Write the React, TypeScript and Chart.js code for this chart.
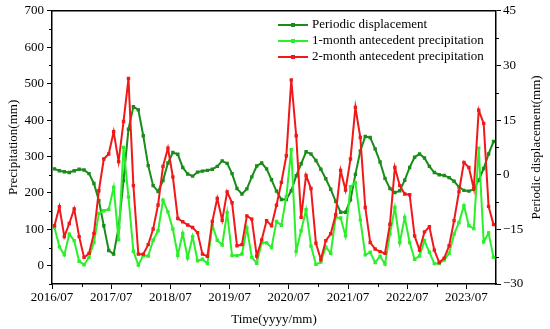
import React, { useEffect, useRef } from 'react';
import { Chart, registerables } from 'chart.js';

Chart.register(...registerables);

const xTickLabels = ['2016/07', '2017/07', '2018/07', '2019/07', '2020/07', '2021/07', '2022/07', '2023/07'];
const leftTicks = [0, 100, 200, 300, 400, 500, 600, 700];
const rightTicks = [-30, -15, 0, 15, 30, 45];
const seriesNames = ['Periodic displacement', '1-month antecedent precipitation', '2-month antecedent precipitation'];

// Periodic displacement (mm, right axis), monthly from 2016/07
const periodic = [
  1.6, 1.1, 0.8, 0.6, 1.1, 1.5, 1.3, 0.3, -2.4, -7.1,
  -14.0, -20.8, -21.8, -14.5, -1.6, 12.5, 18.7, 17.8, 10.7, 2.5,
  -3.0, -4.6, -1.6, 3.2, 6.1, 5.6, 2.0, 0.2, -0.4, 0.7,
  1.0, 1.2, 1.5, 2.3, 3.8, 3.1, 0.3, -3.8, -5.3, -3.9,
  -0.6, 2.4, 3.2, 1.6, -1.4, -4.5, -6.8, -6.8, -4.4, -0.3,
  3.0, 6.3, 5.7, 3.9, 1.5, -1.1, -4.0, -7.3, -10.3, -10.3,
  -6.9, 0.1, 6.5, 10.5, 10.2, 7.1, 3.5, -1.0, -3.8, -4.9,
  -4.4, -1.5, 2.0, 4.8, 5.7, 4.6, 2.3, 0.6, 0.0, -0.2,
  -0.8, -1.8, -3.4, -4.3, -4.5, -4.0, -1.5, 1.7, 5.7, 9.1,
];

// 1-month antecedent precipitation (mm, left axis)
const precip1 = [
  105, 52, 30, 87, 69, 12, 3, 23, 64, 144,
  151, 155, 215, 71, 325, 189, 40, 2, 28, 27,
  70, 96, 180, 148, 101, 29, 89, 22, 80, 14,
  18, 6, 112, 70, 57, 146, 28, 28, 32, 104,
  23, 7, 63, 63, 50, 122, 111, 190, 319, 40,
  96, 154, 54, 4, 10, 52, 34, 133, 131, 82,
  217, 228, 126, 30, 37, 9, 26, 5, 87, 160,
  64, 133, 64, 18, 27, 69, 37, 6, 6, 16,
  34, 87, 119, 165, 110, 102, 323, 66, 90, 23,
];

// 2-month antecedent precipitation (mm, left axis)
const precip2 = [
  110, 162, 80, 116, 156, 80, 23, 34, 89, 206,
  293, 307, 368, 286, 396, 514, 220, 32, 32, 58,
  101, 167, 273, 323, 244, 130, 121, 112, 105, 91,
  32, 26, 122, 185, 125, 203, 173, 55, 58, 137,
  128, 27, 71, 124, 110, 166, 229, 302, 510, 357,
  133, 248, 212, 62, 17, 69, 88, 140, 262, 208,
  293, 435, 352, 160, 64, 46, 39, 34, 114, 270,
  220, 197, 195, 82, 43, 93, 107, 43, 9, 21,
  55, 124, 204, 284, 270, 212, 427, 391, 163, 113,
];

const FONT = '"Liberation Serif", "Times New Roman", serif';
const COLORS = ['#1a8c1a', '#2af02a', '#f01818'];

const toPoints = (arr: number[]) => arr.map((v, i) => ({ x: i + 0.5, y: v }));

const framePlugin = {
  id: 'frame',
  afterDraw(chart: any) {
    const { ctx, chartArea } = chart;
    const { left, right, top, bottom } = chartArea;
    const sx = chart.scales.x;
    const sl = chart.scales.yL;
    const sr = chart.scales.yR;
    ctx.save();
    ctx.strokeStyle = '#000';
    ctx.lineWidth = 1.5;
    ctx.beginPath();
    ctx.moveTo(left, top);
    ctx.lineTo(right, top);
    ctx.stroke();
    // minor ticks
    ctx.lineWidth = 1;
    ctx.beginPath();
    for (let v = -50; v <= 700; v += 100) {
      const y = Math.round(sl.getPixelForValue(v)) + 0.5;
      ctx.moveTo(left, y);
      ctx.lineTo(left - 3, y);
    }
    for (let v = -22.5; v <= 45; v += 15) {
      const y = Math.round(sr.getPixelForValue(v)) + 0.5;
      ctx.moveTo(right, y);
      ctx.lineTo(right + 3, y);
    }
    for (let m = 6; m < 90; m += 12) {
      const x = Math.round(sx.getPixelForValue(m)) + 0.5;
      ctx.moveTo(x, bottom);
      ctx.lineTo(x, bottom + 3);
    }
    ctx.stroke();
    // right title
    ctx.fillStyle = '#000';
    ctx.font = `13px ${FONT}`;
    ctx.textAlign = 'center';
    ctx.textBaseline = 'middle';
    ctx.save();
    ctx.translate(537, (top + bottom) / 2);
    ctx.rotate(-Math.PI / 2);
    ctx.fillText('Periodic displacement(mm)', 0, 0);
    ctx.restore();
    // legend
    const lx0 = 278, lx1 = 308, ly0 = 25, dy = 16;
    chart.data.datasets.forEach((ds: any, i: number) => {
      const y = ly0 + i * dy;
      ctx.strokeStyle = ds.borderColor;
      ctx.lineWidth = 2;
      ctx.beginPath();
      ctx.moveTo(lx0, y);
      ctx.lineTo(lx1, y);
      ctx.stroke();
      ctx.fillStyle = ds.borderColor;
      ctx.fillRect((lx0 + lx1) / 2 - 2, y - 2, 4, 4);
      ctx.fillStyle = '#000';
      ctx.textAlign = 'left';
      ctx.fillText(ds.label, 312, y);
    });
    ctx.restore();
  },
};

export default function App() {
  const ref = useRef<HTMLCanvasElement | null>(null);
  useEffect(() => {
    if (!ref.current) return;
    const lineDs = (label: string, data: number[], color: string, axis: string, order: number) => ({
      label,
      data: toPoints(data),
      borderColor: color,
      backgroundColor: color,
      borderWidth: 2,
      pointStyle: 'rect',
      pointRadius: 2.4,
      pointBorderWidth: 0,
      yAxisID: axis,
      order,
      tension: 0,
    });
    const chart = new Chart(ref.current, {
      type: 'line',
      data: {
        datasets: [
          lineDs(seriesNames[0], periodic, COLORS[0], 'yR', 2),
          lineDs(seriesNames[1], precip1, COLORS[1], 'yL', 1),
          lineDs(seriesNames[2], precip2, COLORS[2], 'yL', 0),
        ] as any,
      },
      options: {
        animation: false,
        responsive: false,
        maintainAspectRatio: false,
        layout: { padding: { top: 10, left: 0, right: 0, bottom: 0 } },
        plugins: { legend: { display: false }, tooltip: { enabled: false } },
        scales: {
          x: {
            type: 'linear',
            position: 'bottom',
            min: 0,
            max: 90,
            afterBuildTicks: (s: any) => {
              s.ticks = xTickLabels.map((_, i) => ({ value: i * 12 }));
            },
            afterFit: (s: any) => {
              s.height = 45;
            },
            ticks: {
              autoSkip: false,
              maxRotation: 0,
              padding: 1,
              color: '#000',
              font: { family: FONT, size: 13 },
              callback: (v: any) => xTickLabels[Math.round(Number(v) / 12)] ?? '',
            },
            grid: { drawOnChartArea: false, tickLength: 5, color: '#000', tickWidth: 1 },
            border: { color: '#000', width: 1.5 },
            title: {
              display: true,
              text: 'Time(yyyy/mm)',
              color: '#000',
              font: { family: FONT, size: 13 },
              padding: { top: 0, bottom: 2 },
            },
          },
          yL: {
            type: 'linear',
            position: 'left',
            min: -50,
            max: 700,
            afterBuildTicks: (s: any) => {
              s.ticks = leftTicks.map((v) => ({ value: v }));
            },
            afterFit: (s: any) => {
              s.width = 52;
            },
            ticks: {
              padding: 3,
              color: '#000',
              font: { family: FONT, size: 13 },
            },
            grid: { drawOnChartArea: false, tickLength: 5, color: '#000', tickWidth: 1 },
            border: { color: '#000', width: 1.5 },
            title: {
              display: true,
              text: 'Precipitation(mm)',
              color: '#000',
              font: { family: FONT, size: 13 },
              padding: { top: 6, bottom: 0 },
            },
          },
          yR: {
            type: 'linear',
            position: 'right',
            min: -30,
            max: 45,
            afterBuildTicks: (s: any) => {
              s.ticks = rightTicks.map((v) => ({ value: v }));
            },
            afterFit: (s: any) => {
              s.width = 54;
            },
            ticks: {
              padding: 2,
              color: '#000',
              font: { family: FONT, size: 13 },
              callback: (v: any) => (Number(v) < 0 ? '\u2212' + Math.abs(Number(v)) : String(v)),
            },
            grid: { drawOnChartArea: false, tickLength: 5, color: '#000', tickWidth: 1 },
            border: { color: '#000', width: 1.5 },
          },
        },
      } as any,
      plugins: [framePlugin],
    });
    return () => chart.destroy();
  }, []);
  return (
    <div style={{ position: 'absolute', left: 0, top: 0, width: 550, height: 329, background: '#fff' }}>
      <canvas ref={ref} width={550} height={329} style={{ display: 'block' }} />
    </div>
  );
}
